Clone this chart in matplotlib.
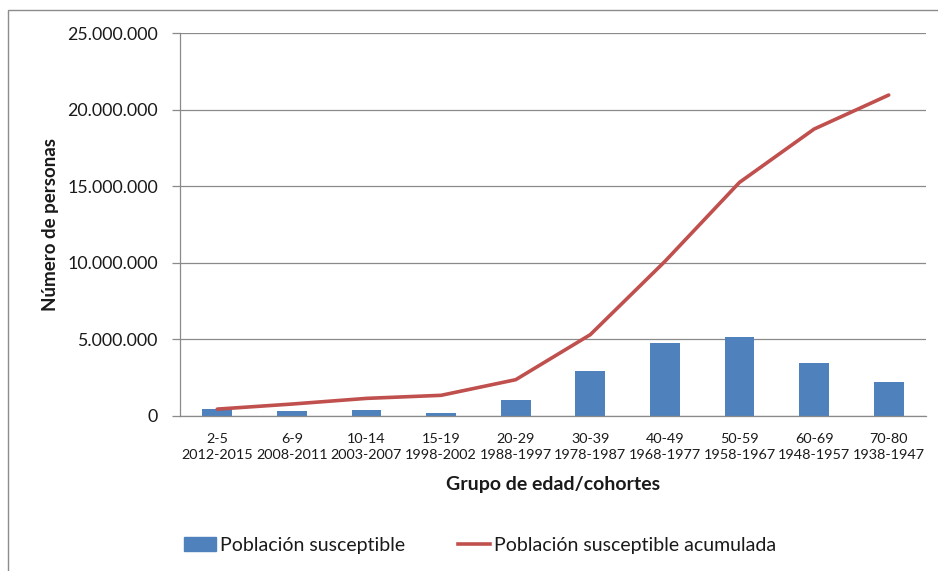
import matplotlib
matplotlib.use("Agg")
import matplotlib.pyplot as plt
from matplotlib.patches import Rectangle
from matplotlib.lines import Line2D
from matplotlib.ticker import FuncFormatter

plt.rcParams['font.family'] = ['Lato', 'DejaVu Sans']

age_groups = ["2-5", "6-9", "10-14", "15-19", "20-29", "30-39", "40-49", "50-59", "60-69", "70-80"]
cohorts = ["2012-2015", "2008-2011", "2003-2007", "1998-2002", "1988-1997",
           "1978-1987", "1968-1977", "1958-1967", "1948-1957", "1938-1947"]
susceptible = [450000, 330000, 370000, 200000, 1020000, 2940000, 4780000, 5160000, 3480000, 2220000]
cumulative = [450000, 780000, 1150000, 1350000, 2370000, 5310000, 10090000, 15250000, 18730000, 20950000]
y_ticks = [0, 5000000, 10000000, 15000000, 20000000, 25000000]

W, H = 938, 571
fig = plt.figure(figsize=(W / 100, H / 100), dpi=100)

# outer frame of the chart area
fig.patches.append(Rectangle((8 / W, -0.1), 1.2, 1 - 10 / H + 0.1, transform=fig.transFigure,
                             fill=False, edgecolor="#8c8c8c", linewidth=1.0))

ax = fig.add_axes([180 / W, 1 - 416 / H, (926 - 180) / W, (416 - 33) / H])

x = list(range(len(age_groups)))
bar_color = "#4F81BD"
line_color = "#C0504D"
grid_color = "#8a8a8a"
text_color = "#1a1a1a"

ax.bar(x, susceptible, width=0.4, color=bar_color, zorder=2)
ax.plot(x, cumulative, color=line_color, linewidth=2.6, solid_capstyle="round", zorder=3)

ax.set_xlim(-0.5, len(age_groups) - 0.5)
ax.set_ylim(0, 25000000)
ax.set_yticks(y_ticks)
ax.yaxis.set_major_formatter(FuncFormatter(lambda v, p: f"{int(v):,}".replace(",", ".")))
ax.yaxis.grid(True, color=grid_color, linewidth=0.9)
ax.set_axisbelow(True)

ax.set_xticks(x)
ax.set_xticklabels([f"{a}\n{c}" for a, c in zip(age_groups, cohorts)], linespacing=1.45)
ax.tick_params(axis="x", length=0, pad=12, labelsize=10.4, colors=text_color)
ax.tick_params(axis="y", length=6, width=0.9, color=grid_color, pad=10, labelsize=12.8, colors=text_color)

for side in ("top", "right"):
    ax.spines[side].set_visible(False)
for side in ("left", "bottom"):
    ax.spines[side].set_color(grid_color)
    ax.spines[side].set_linewidth(0.9)

ax.set_xlabel("Grupo de edad/cohortes", fontsize=14, fontweight="bold", color=text_color, labelpad=11)
ax.set_ylabel("Número de personas", fontsize=13.5, fontweight="bold", color=text_color, labelpad=6)

handles = [Rectangle((0, 0), 1, 1, color=bar_color),
           Line2D([0], [0], color=line_color, linewidth=2.6)]
fig.legend(handles, ["Población susceptible", "Población susceptible acumulada"],
           loc="center", bbox_to_anchor=(480 / W, 1 - 545 / H), ncol=2, frameon=False,
           fontsize=14, handlelength=1.65, handletextpad=0.2, columnspacing=2.7,
           labelcolor=text_color)

fig.savefig("out.png", dpi=100)
